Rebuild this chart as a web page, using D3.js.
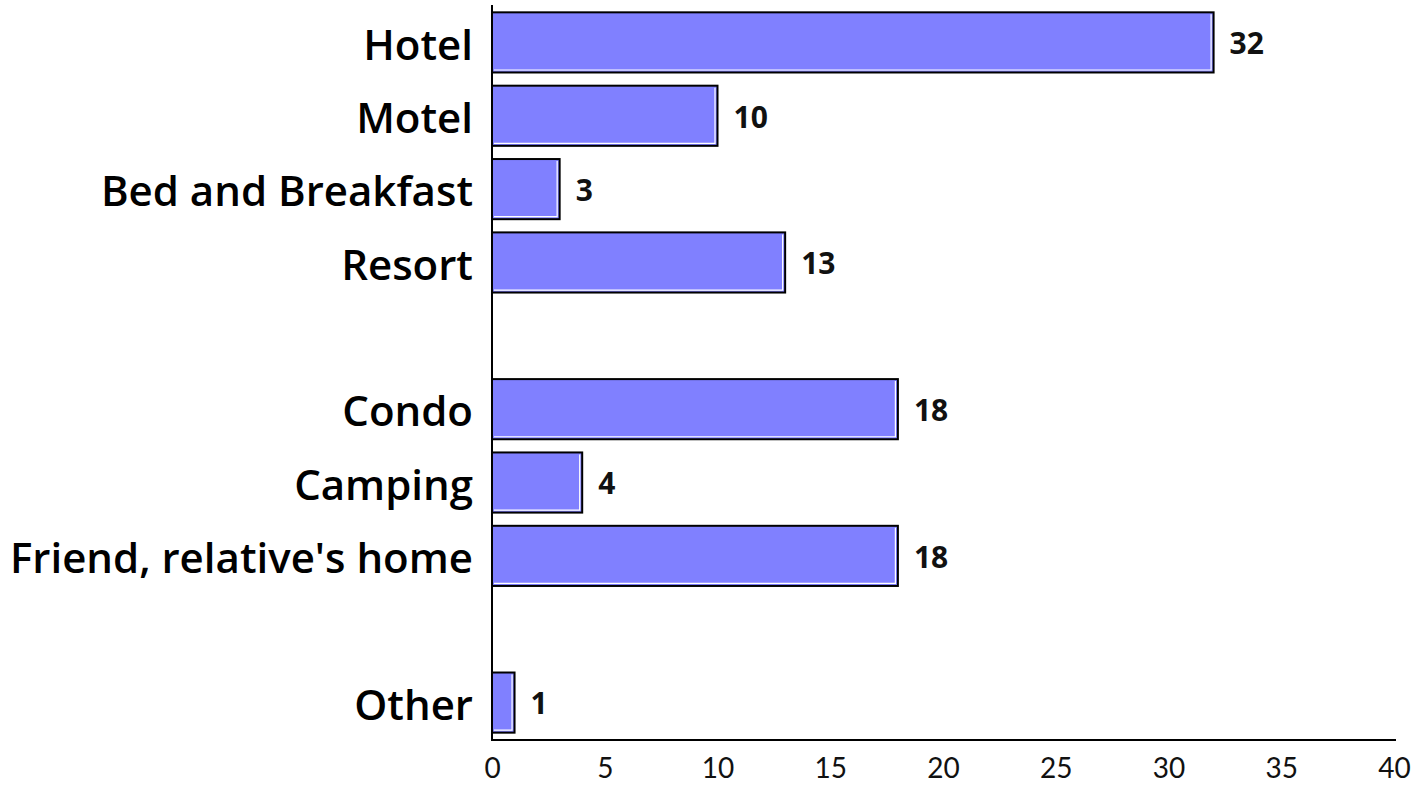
<!DOCTYPE html>
<html><head><meta charset="utf-8">
<script src="https://cdn.jsdelivr.net/npm/d3@7"></script>
<style>html,body{margin:0;padding:0;background:#fff;}svg{display:block;}</style>
</head><body>
<svg id="c" width="1423" height="787"></svg>
<script>
const categories = ["Hotel","Motel","Bed and Breakfast","Resort","gap1","Condo","Camping","Friend, relative's home","gap2","Other"];
const values = [32,10,3,13,null,18,4,18,null,1];
const tickValues = [0,5,10,15,20,25,30,35,40];

const svg = d3.select("#c");
const x = d3.scaleLinear().domain([0,40]).range([492,1394]);
const y = d3.scaleBand().domain(categories).range([5,740]).paddingInner(0.18).paddingOuter(0.1);
const data = categories.map((c,i)=>({c, v: values[i]})).filter(d=>d.v!==null);

const g = svg.append("g");
data.forEach(d=>{
  const x0 = x(0), x1 = x(d.v), y0 = y(d.c), h = y.bandwidth();
  g.append("rect").attr("x",x0).attr("y",y0).attr("width",x1-x0).attr("height",h)
    .attr("fill","#8080ff");
  g.append("path").attr("d",`M${x0+2},${y0+h-2.5}H${x1-2.5}V${y0+2}`)
    .attr("fill","none").attr("stroke","#fff").attr("stroke-width",1.2);
  g.append("rect").attr("x",x0).attr("y",y0).attr("width",x1-x0).attr("height",h)
    .attr("fill","none").attr("stroke","#000").attr("stroke-width",2);
  g.append("text").attr("x",x1+16).attr("y",y0+h/2+1).attr("dy","0.36em")
    .attr("font-family","Open Sans").attr("font-weight","bold").attr("font-size",30)
    .attr("fill","#111").text(d.v);
});

// category labels
const labels = svg.append("g");
data.forEach(d=>{
  labels.append("text").attr("x",473).attr("y",y(d.c)+y.bandwidth()/2+2).attr("dy","0.36em")
    .attr("text-anchor","end").attr("font-family","Open Sans").attr("font-weight","600")
    .attr("font-size",42).attr("fill","#000").text(d.c);
});

// axes
svg.append("line").attr("x1",492).attr("x2",492).attr("y1",5).attr("y2",741)
  .attr("stroke","#000").attr("stroke-width",2);
const xAxis = d3.axisBottom(x).tickValues(tickValues).tickSize(0).tickPadding(18);
const ax = svg.append("g").attr("transform","translate(0,740)").call(xAxis);
ax.select(".domain").attr("stroke","#000").attr("stroke-width",2).attr("d","M491,0H1396");
ax.selectAll("text").attr("font-family","Lato").attr("font-size",28).attr("fill","#111");
</script>
</body></html>
